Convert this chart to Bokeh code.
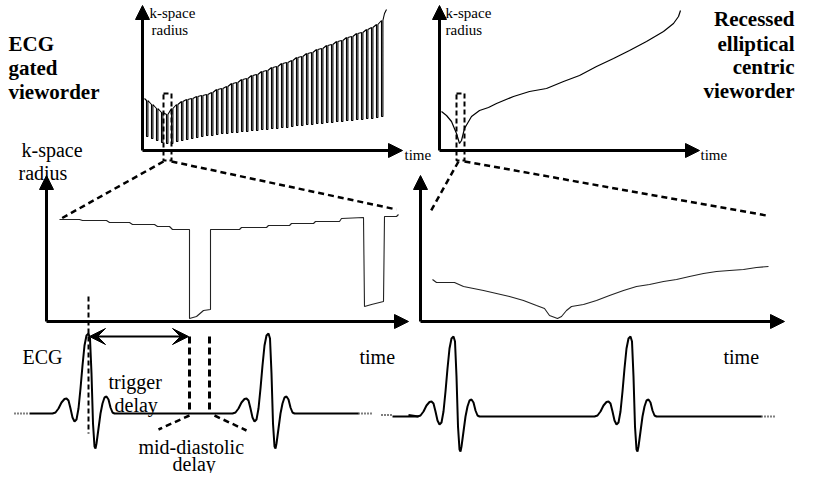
import numpy as np
from bokeh.plotting import figure
from bokeh.models import Range1d, Arrow, NormalHead, VeeHead
from bokeh.core.properties import value
from bokeh.embed import file_html
from bokeh.resources import INLINE

FONT = value("Liberation Serif")

# ---------------- data (panel-local units: time, k-space radius) ----------------
# Top-left: ECG gated vieworder, one dip per heartbeat segment
gated_t = [4, 9, 14, 19, 24, 29, 34, 39, 44, 49, 54, 59, 64, 69, 74, 79, 84, 89, 94, 99,
           104, 109, 114, 119, 124, 129, 134, 139, 144, 149, 154, 159, 164, 169, 174, 179,
           184, 189, 194, 199, 204, 209, 214, 219, 224, 229, 234, 239]
gated_top = [50, 46, 42, 38, 36, 42, 46, 49, 51, 52, 54, 55, 56, 58, 61, 62, 64, 67, 68, 71,
             72, 75, 76, 79, 80, 83, 84, 87, 88, 90, 93, 94, 97, 98, 101, 102, 105, 106,
             109, 110, 113, 114, 117, 118, 121, 123, 126, 130]
gated_bottom = [14, 12, 10, 8, 7, 7, 9, 10, 11, 12, 13, 14, 15, 15, 16, 17, 17, 18, 18, 19,
                19, 20, 20, 21, 21, 22, 22, 23, 23, 24, 25, 25, 26, 26, 27, 27, 28, 28, 29,
                29, 30, 30, 31, 31, 32, 32, 33, 34]
gated_end_t = [242, 244]
gated_end_r = [137, 141]

# Top-right: recessed elliptical centric vieworder
rec_t = [2, 7, 12, 17, 20, 22, 25, 32, 40, 49, 57, 74, 90, 107, 124, 140, 157, 174, 190,
         207, 224, 234, 239, 241]
rec_r = [39, 35, 29, 17, 7, 10, 22, 34, 40, 43, 47, 54, 59, 62, 69, 75, 84, 92, 100, 109,
         119, 127, 134, 140]

# Middle-left: zoomed gated vieworder
zg_t = [13, 33, 36, 60, 63, 83, 86, 108, 111, 123, 126, 143, 143, 150, 157, 164, 164, 193,
        195, 220, 222, 243, 245, 267, 269, 293, 295, 317, 318, 325, 337, 338, 350, 352]
zg_r = [102, 102, 101, 101, 99, 99, 97, 97, 95, 95, 92, 92, 3, 5, 11, 12, 92, 92, 94, 94,
        96, 96, 98, 98, 100, 100, 103, 104, 15, 17, 20, 105, 105, 107]

# Middle-right: zoomed recessed elliptical centric vieworder
zr_t = [12, 16, 34, 43, 53, 63, 76, 89, 103, 116, 124, 129, 137, 141, 146, 151, 163, 176,
        189, 203, 216, 229, 243, 256, 269, 283, 296, 309, 323, 336, 348]
zr_r = [42, 39, 39, 35, 33, 31, 28, 25, 21, 16, 13, 6, 3, 5, 11, 15, 17, 21, 26, 31, 35,
        37, 40, 42, 45, 48, 50, 51, 52, 54, 55]

# ECG beat template (time offset from R peak, amplitude)
ecg_dt = [-36, -33, -30, -27, -24, -22, -20, -18, -16, -14, -12, -10, -8, -6, -4, -2, 0,
          1.5, 3, 4.5, 6, 7, 8, 10, 12, 14, 16, 18, 20, 22, 24, 26]
ecg_dv = [0, 1, 5, 11, 14.5, 15, 13, 5, -4, -8, -6, 5, 25, 48, 68, 78, 80,
          75, 40, -10, -33, -35, -30, -15, 0, 10, 16, 17, 14, 6, 1, 0]
ecg_left_R = [92, 272]
ecg_right_R = [457, 634]

# ---------------- layout constants ----------------
TL = (146, 157)   # top-left panel origin
TR = (443, 157)   # top-right panel origin
ML = (50, 328)    # middle-left origin
MR = (424, 328)   # middle-right origin
ECG_L_BASE = 420
ECG_R_BASE = 423


def to_xy(origin, t, r):
    return origin[0] + np.asarray(t, float), origin[1] - np.asarray(r, float)


p = figure(width=797, height=473, x_range=Range1d(4, 801), y_range=Range1d(480, 7),
           output_backend="svg", toolbar_location=None, min_border=0,
           x_axis_type=None, y_axis_type=None)
p.grid.visible = False
p.outline_line_color = None
p.background_fill_color = "white"
p.border_fill_color = "white"

# ---- top-left gated curve with dips ----
path_t, path_r = [2], [52]
w = 1.4
for t, top, bot in zip(gated_t, gated_top, gated_bottom):
    path_t += [t, t, t + w, t + w]
    path_r += [top, bot, bot, top]
path_t += gated_end_t
path_r += gated_end_r
x, y = to_xy(TL, path_t, path_r)
p.line(x, y, line_color="black", line_width=1.1)

# ---- top-right recessed curve ----
x, y = to_xy(TR, rec_t, rec_r)
p.line(x, y, line_color="black", line_width=1.2)

# ---- middle curves ----
x, y = to_xy(ML, zg_t, zg_r)
p.line(x, y, line_color="#222222", line_width=1.1)
x, y = to_xy(MR, zr_t, zr_r)
p.line(x, y, line_color="#222222", line_width=1.1)

# ---- axes with arrows ----
def axis_arrow(x0, y0, x1, y1, size=14):
    p.add_layout(Arrow(x_start=x0, y_start=y0, x_end=x1, y_end=y1, line_width=3,
                       line_color="black",
                       end=NormalHead(size=size, fill_color="black", line_color="black",
                                      line_width=1)))

for (ox, oy), xt, yt in [(TL, 406, 12), (TR, 703, 12), (ML, 412, 182), (MR, 788, 182)]:
    axis_arrow(ox, oy, ox, yt)
    axis_arrow(ox, oy, xt, oy)

# ---- dashed zoom boxes and connectors ----
DASH = "6 4"
p.line([167, 175, 175, 167, 167], [100, 100, 167, 167, 100], line_color="black",
       line_width=2, line_dash="5 3")
p.line([460, 468, 468, 460, 460], [100, 100, 167, 167, 100], line_color="black",
       line_width=2, line_dash="5 3")
p.line([167, 63], [168, 226], line_color="black", line_width=2.5, line_dash=DASH)
p.line([175, 400], [168, 216], line_color="black", line_width=2.5, line_dash=DASH)
p.line([462, 433], [168, 220], line_color="black", line_width=2.5, line_dash=DASH)
p.line([468, 770], [168, 222], line_color="black", line_width=2.5, line_dash=DASH)

# ---- ECG traces ----
def ecg(Rs, base, x_start, x_end):
    xs, ys = [x_start], [base]
    for R in Rs:
        xs += [R + d for d in ecg_dt]
        ys += [base - v for v in ecg_dv]
    xs.append(x_end)
    ys.append(base)
    p.line(xs, ys, line_color="black", line_width=2)

ecg(ecg_left_R, ECG_L_BASE, 33, 362)
ecg(ecg_right_R, ECG_R_BASE, 396, 765)
p.line([412, 422], [ECG_L_BASE + 1.5, ECG_R_BASE], line_color="black", line_width=2)
for xa, xb, yb in [(18, 33, ECG_L_BASE), (362, 377, ECG_L_BASE), (385, 396, ECG_L_BASE + 1.5),
                   (765, 779, ECG_R_BASE)]:
    p.line([xa, xb], [yb, yb], line_color="black", line_width=2, line_dash="1 2")

# trigger line and delays
p.line([92, 92], [303, 440], line_color="black", line_width=2, line_dash="5 3")
p.add_layout(Arrow(x_start=93, y_start=343, x_end=192, y_end=343, line_width=2,
                   line_color="black",
                   start=VeeHead(size=16, fill_color="black", line_color="black"),
                   end=VeeHead(size=16, fill_color="black", line_color="black")))
p.line([193, 193], [343, 420], line_color="black", line_width=3, line_dash="7 4")
p.line([213, 213], [343, 420], line_color="black", line_width=3, line_dash="7 4")
p.line([193, 162], [422, 436], line_color="black", line_width=2.5, line_dash=DASH)
p.line([218, 250], [422, 437], line_color="black", line_width=2.5, line_dash=DASH)

# ---- texts ----
def txt(x, y, s, size, bold=False, align="left"):
    p.text([x], [y], text=[s], text_font=FONT, text_font_size=f"{size}px",
           text_font_style="bold" if bold else "normal", text_align=align,
           text_baseline="alphabetic", text_color="black")

for s, yb in [("ECG", 50), ("gated", 74), ("vieworder", 98)]:
    txt(12, yb, s, 21, bold=True)
for s, yb in [("Recessed", 25), ("elliptical", 50), ("centric", 73), ("vieworder", 97)]:
    txt(798, yb, s, 21, bold=True, align="right")

txt(153, 19, "k-space", 15)
txt(155, 36, "radius", 15)
txt(449, 19, "k-space", 15)
txt(449, 36, "radius", 15)
txt(408, 161, "time", 15)
txt(704, 161, "time", 15)

txt(25, 156, "k-space", 20)
txt(22, 179, "radius", 20)
txt(26, 363, "ECG", 20)
txt(363, 363, "time", 20)
txt(727, 363, "time", 20)
txt(112, 388, "trigger", 20)
txt(118, 411, "delay", 20)
txt(142, 453, "mid-diastolic", 20)
txt(176, 470, "delay", 20)

open("out.html", "w").write(file_html(p, INLINE))
